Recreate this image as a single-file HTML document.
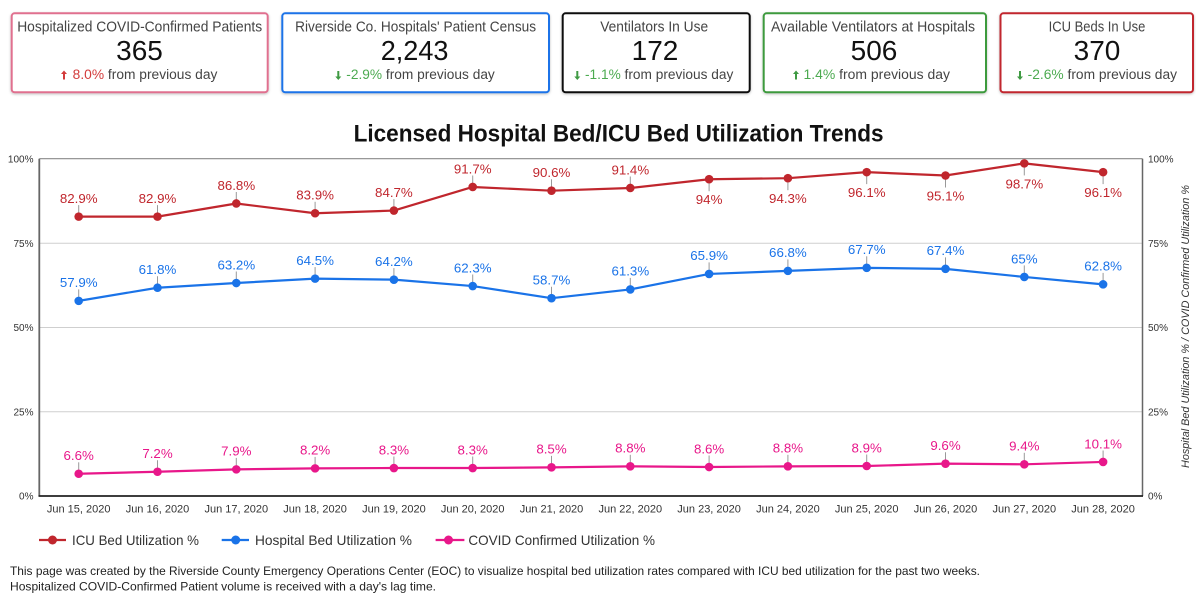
<!DOCTYPE html>
<html><head><meta charset="utf-8"><style>
html,body{margin:0;padding:0;background:#fff;width:1196px;height:603px;overflow:hidden}
svg{display:block;font-family:"Liberation Sans",Arial,sans-serif}
</style></head><body>
<svg width="1196" height="603" viewBox="0 0 1196 603" xmlns="http://www.w3.org/2000/svg">
<defs>
<filter id="sh" x="-5%" y="-10%" width="110%" height="125%"><feDropShadow dx="0" dy="1" stdDeviation="1.2" flood-color="#000" flood-opacity="0.25"/></filter>
</defs>
<rect width="1196" height="603" fill="#fff"/>

<!-- KPI cards -->
<g filter="url(#sh)">
<rect x="11.7" y="13.3" width="256" height="79" rx="3" fill="#fff" stroke="#e0708f" stroke-width="2"/>
<rect x="282.3" y="13.3" width="266.7" height="79" rx="3" fill="#fff" stroke="#1a73e8" stroke-width="2"/>
<rect x="562.7" y="13.3" width="187" height="79" rx="3" fill="#fff" stroke="#111" stroke-width="2"/>
<rect x="763.7" y="13.3" width="222.3" height="79" rx="3" fill="#fff" stroke="#3e9a3e" stroke-width="2"/>
<rect x="1000.5" y="13.3" width="192.5" height="79" rx="3" fill="#fff" stroke="#c1272d" stroke-width="2"/>
</g>
<g font-size="14.5" fill="#444" text-anchor="middle">
<text x="139.7" y="31.7" textLength="245" lengthAdjust="spacingAndGlyphs">Hospitalized COVID-Confirmed Patients</text>
<text x="415.6" y="31.7" textLength="241" lengthAdjust="spacingAndGlyphs">Riverside Co. Hospitals' Patient Census</text>
<text x="654.2" y="31.7" textLength="108" lengthAdjust="spacingAndGlyphs">Ventilators In Use</text>
<text x="873" y="31.7" textLength="204" lengthAdjust="spacingAndGlyphs">Available Ventilators at Hospitals</text>
<text x="1097" y="31.7" textLength="96.7" lengthAdjust="spacingAndGlyphs">ICU Beds In Use</text>
</g>
<g font-size="28" fill="#111" text-anchor="middle">
<text x="139.5" y="60" textLength="46.7" lengthAdjust="spacingAndGlyphs">365</text>
<text x="414.6" y="60" textLength="67.7" lengthAdjust="spacingAndGlyphs">2,243</text>
<text x="655" y="60">172</text>
<text x="874" y="60">506</text>
<text x="1097" y="60">370</text>
</g>
<!-- arrows -->
<g>
<path d="M64 70.5 L67 74 L65 74 L65 79.5 L63 79.5 L63 74 L61 74 Z" fill="#d33b3b"/>
<path d="M338.3 80 L341.3 76.5 L339.3 76.5 L339.3 71 L337.3 71 L337.3 76.5 L335.3 76.5 Z" fill="#3f9a43"/>
<path d="M577.3 80 L580.3 76.5 L578.3 76.5 L578.3 71 L576.3 71 L576.3 76.5 L574.3 76.5 Z" fill="#3f9a43"/>
<path d="M796 70.5 L799 74 L797 74 L797 79.5 L795 79.5 L795 74 L793 74 Z" fill="#3f9a43"/>
<path d="M1020 80 L1023 76.5 L1021 76.5 L1021 71 L1019 71 L1019 76.5 L1017 76.5 Z" fill="#3f9a43"/>
</g>
<g font-size="13.5" fill="#444">
<text x="72.7" y="79" textLength="144.7" lengthAdjust="spacingAndGlyphs"><tspan fill="#d33b3b">8.0%</tspan> from previous day</text>
<text x="346.3" y="79" textLength="148.5" lengthAdjust="spacingAndGlyphs"><tspan fill="#4caa50">-2.9%</tspan> from previous day</text>
<text x="585" y="79" textLength="148.3" lengthAdjust="spacingAndGlyphs"><tspan fill="#4caa50">-1.1%</tspan> from previous day</text>
<text x="803.5" y="79" textLength="146.5" lengthAdjust="spacingAndGlyphs"><tspan fill="#4caa50">1.4%</tspan> from previous day</text>
<text x="1027.7" y="79" textLength="149.3" lengthAdjust="spacingAndGlyphs"><tspan fill="#4caa50">-2.6%</tspan> from previous day</text>
</g>

<!-- Title -->
<text x="618.6" y="141.7" font-size="24" font-weight="bold" fill="#111" text-anchor="middle" textLength="530" lengthAdjust="spacingAndGlyphs">Licensed Hospital Bed/ICU Bed Utilization Trends</text>

<!-- Plot area -->
<g>
<line x1="39.3" y1="243.25" x2="1142.5" y2="243.25" stroke="#cfcfcf" stroke-width="1"/>
<line x1="39.3" y1="327.5" x2="1142.5" y2="327.5" stroke="#cfcfcf" stroke-width="1"/>
<line x1="39.3" y1="411.75" x2="1142.5" y2="411.75" stroke="#cfcfcf" stroke-width="1"/>
<line x1="39.3" y1="158.7" x2="1142.5" y2="158.7" stroke="#8a8a8a" stroke-width="1.2"/>
<line x1="1142.5" y1="158.7" x2="1142.5" y2="496" stroke="#666" stroke-width="1.5"/>
<line x1="39.3" y1="158.7" x2="39.3" y2="496" stroke="#666" stroke-width="1.8"/>
<line x1="38.5" y1="496" x2="1143" y2="496" stroke="#222" stroke-width="1.8"/>
</g>
<g font-size="10" fill="#333" text-anchor="end">
<text x="33.5" y="162.5">100%</text>
<text x="33.5" y="246.8">75%</text>
<text x="33.5" y="331">50%</text>
<text x="33.5" y="415.3">25%</text>
<text x="33.5" y="499.5">0%</text>
</g>
<g font-size="10" fill="#333">
<text x="1148" y="162.5">100%</text>
<text x="1148" y="246.8">75%</text>
<text x="1148" y="331">50%</text>
<text x="1148" y="415.3">25%</text>
<text x="1148" y="499.5">0%</text>
</g>
<text transform="translate(1189,326.5) rotate(-90)" font-size="11" font-style="italic" fill="#333" text-anchor="middle" textLength="283" lengthAdjust="spacingAndGlyphs">Hospital Bed Utilization % / COVID Confirmed Utilization %</text>

<g font-size="11" fill="#333" text-anchor="middle">
<text x="78.7" y="512.5">Jun 15, 2020</text>
<text x="157.5" y="512.5">Jun 16, 2020</text>
<text x="236.3" y="512.5">Jun 17, 2020</text>
<text x="315.1" y="512.5">Jun 18, 2020</text>
<text x="393.9" y="512.5">Jun 19, 2020</text>
<text x="472.7" y="512.5">Jun 20, 2020</text>
<text x="551.5" y="512.5">Jun 21, 2020</text>
<text x="630.3" y="512.5">Jun 22, 2020</text>
<text x="709.1" y="512.5">Jun 23, 2020</text>
<text x="787.9" y="512.5">Jun 24, 2020</text>
<text x="866.7" y="512.5">Jun 25, 2020</text>
<text x="945.5" y="512.5">Jun 26, 2020</text>
<text x="1024.3" y="512.5">Jun 27, 2020</text>
<text x="1103.1" y="512.5">Jun 28, 2020</text>
</g>

<!-- ICU series -->
<g stroke="#999" stroke-width="1">
<line x1="78.7" y1="205.1" x2="78.7" y2="212.6"/>
<line x1="157.5" y1="205.1" x2="157.5" y2="212.6"/>
<line x1="236.3" y1="192" x2="236.3" y2="199.5"/>
<line x1="315.1" y1="201.8" x2="315.1" y2="209.3"/>
<line x1="393.9" y1="199.1" x2="393.9" y2="206.6"/>
<line x1="472.7" y1="175.5" x2="472.7" y2="183"/>
<line x1="551.5" y1="179.2" x2="551.5" y2="186.7"/>
<line x1="630.3" y1="176.5" x2="630.3" y2="184"/>
<line x1="709.1" y1="183.2" x2="709.1" y2="191.2"/>
<line x1="787.9" y1="182.2" x2="787.9" y2="190.2"/>
<line x1="866.7" y1="176.1" x2="866.7" y2="184.1"/>
<line x1="945.5" y1="179.5" x2="945.5" y2="187.5"/>
<line x1="1024.3" y1="167.4" x2="1024.3" y2="175.4"/>
<line x1="1103.1" y1="176.1" x2="1103.1" y2="184.1"/>
</g>
<polyline fill="none" stroke="#c0262d" stroke-width="2.2" stroke-linejoin="round" points="78.7,216.63 157.5,216.63 236.3,203.48 315.1,213.26 393.9,210.56 472.7,186.97 551.5,190.68 630.3,187.98 709.1,179.22 787.9,178.21 866.7,172.14 945.5,175.51 1024.3,163.38 1103.1,172.14"/>
<g fill="#c0262d">
<circle cx="78.7" cy="216.63" r="4.3"/><circle cx="157.5" cy="216.63" r="4.3"/><circle cx="236.3" cy="203.48" r="4.3"/><circle cx="315.1" cy="213.26" r="4.3"/><circle cx="393.9" cy="210.56" r="4.3"/><circle cx="472.7" cy="186.97" r="4.3"/><circle cx="551.5" cy="190.68" r="4.3"/><circle cx="630.3" cy="187.98" r="4.3"/><circle cx="709.1" cy="179.22" r="4.3"/><circle cx="787.9" cy="178.21" r="4.3"/><circle cx="866.7" cy="172.14" r="4.3"/><circle cx="945.5" cy="175.51" r="4.3"/><circle cx="1024.3" cy="163.38" r="4.3"/><circle cx="1103.1" cy="172.14" r="4.3"/>
</g>
<g font-size="13.3" fill="#c0262d" text-anchor="middle">
<text x="78.7" y="202.9">82.9%</text>
<text x="157.5" y="202.9">82.9%</text>
<text x="236.3" y="189.8">86.8%</text>
<text x="315.1" y="199.6">83.9%</text>
<text x="393.9" y="196.9">84.7%</text>
<text x="472.7" y="173.3">91.7%</text>
<text x="551.5" y="177">90.6%</text>
<text x="630.3" y="174.3">91.4%</text>
<text x="709.1" y="204.2">94%</text>
<text x="787.9" y="203.2">94.3%</text>
<text x="866.7" y="197.1">96.1%</text>
<text x="945.5" y="200.5">95.1%</text>
<text x="1024.3" y="188.6">98.7%</text>
<text x="1103.1" y="197.1">96.1%</text>
</g>

<!-- Hospital series -->
<g stroke="#999" stroke-width="1">
<line x1="78.7" y1="289.4" x2="78.7" y2="296.9"/>
<line x1="157.5" y1="276.2" x2="157.5" y2="283.7"/>
<line x1="236.3" y1="271.5" x2="236.3" y2="279"/>
<line x1="315.1" y1="267.1" x2="315.1" y2="274.6"/>
<line x1="393.9" y1="268.1" x2="393.9" y2="275.6"/>
<line x1="472.7" y1="274.5" x2="472.7" y2="282"/>
<line x1="551.5" y1="286.7" x2="551.5" y2="294.2"/>
<line x1="630.3" y1="277.9" x2="630.3" y2="285.4"/>
<line x1="709.1" y1="262.4" x2="709.1" y2="269.9"/>
<line x1="787.9" y1="259.4" x2="787.9" y2="266.9"/>
<line x1="866.7" y1="256.3" x2="866.7" y2="263.8"/>
<line x1="945.5" y1="257.4" x2="945.5" y2="264.9"/>
<line x1="1024.3" y1="265.4" x2="1024.3" y2="272.9"/>
<line x1="1103.1" y1="272.9" x2="1103.1" y2="280.4"/>
</g>
<polyline fill="none" stroke="#1a73e8" stroke-width="2.2" stroke-linejoin="round" points="78.7,300.88 157.5,287.73 236.3,283.02 315.1,278.63 393.9,279.65 472.7,286.05 551.5,298.18 630.3,289.42 709.1,273.92 787.9,270.88 866.7,267.85 945.5,268.86 1024.3,276.95 1103.1,284.36"/>
<g fill="#1a73e8">
<circle cx="78.7" cy="300.88" r="4.3"/><circle cx="157.5" cy="287.73" r="4.3"/><circle cx="236.3" cy="283.02" r="4.3"/><circle cx="315.1" cy="278.63" r="4.3"/><circle cx="393.9" cy="279.65" r="4.3"/><circle cx="472.7" cy="286.05" r="4.3"/><circle cx="551.5" cy="298.18" r="4.3"/><circle cx="630.3" cy="289.42" r="4.3"/><circle cx="709.1" cy="273.92" r="4.3"/><circle cx="787.9" cy="270.88" r="4.3"/><circle cx="866.7" cy="267.85" r="4.3"/><circle cx="945.5" cy="268.86" r="4.3"/><circle cx="1024.3" cy="276.95" r="4.3"/><circle cx="1103.1" cy="284.36" r="4.3"/>
</g>
<g font-size="13.3" fill="#1a73e8" text-anchor="middle">
<text x="78.7" y="287.2">57.9%</text>
<text x="157.5" y="274">61.8%</text>
<text x="236.3" y="269.3">63.2%</text>
<text x="315.1" y="264.9">64.5%</text>
<text x="393.9" y="266">64.2%</text>
<text x="472.7" y="272.4">62.3%</text>
<text x="551.5" y="284.5">58.7%</text>
<text x="630.3" y="275.7">61.3%</text>
<text x="709.1" y="260.2">65.9%</text>
<text x="787.9" y="257.2">66.8%</text>
<text x="866.7" y="254.2">67.7%</text>
<text x="945.5" y="255.2">67.4%</text>
<text x="1024.3" y="263.3">65%</text>
<text x="1103.1" y="270.7">62.8%</text>
</g>

<!-- COVID series -->
<g stroke="#999" stroke-width="1">
<line x1="78.7" y1="462.3" x2="78.7" y2="469.8"/>
<line x1="157.5" y1="460.2" x2="157.5" y2="467.7"/>
<line x1="236.3" y1="457.9" x2="236.3" y2="465.4"/>
<line x1="315.1" y1="456.9" x2="315.1" y2="464.4"/>
<line x1="393.9" y1="456.5" x2="393.9" y2="464"/>
<line x1="472.7" y1="456.5" x2="472.7" y2="464"/>
<line x1="551.5" y1="455.9" x2="551.5" y2="463.4"/>
<line x1="630.3" y1="454.8" x2="630.3" y2="462.3"/>
<line x1="709.1" y1="455.5" x2="709.1" y2="463"/>
<line x1="787.9" y1="454.8" x2="787.9" y2="462.3"/>
<line x1="866.7" y1="454.5" x2="866.7" y2="462"/>
<line x1="945.5" y1="452.2" x2="945.5" y2="459.7"/>
<line x1="1024.3" y1="452.8" x2="1024.3" y2="460.3"/>
<line x1="1103.1" y1="450.5" x2="1103.1" y2="458"/>
</g>
<polyline fill="none" stroke="#e8178a" stroke-width="2.2" stroke-linejoin="round" points="78.7,473.76 157.5,471.74 236.3,469.38 315.1,468.37 393.9,468.03 472.7,468.03 551.5,467.35 630.3,466.34 709.1,467.02 787.9,466.34 866.7,466.01 945.5,463.65 1024.3,464.32 1103.1,461.96"/>
<g fill="#e8178a">
<circle cx="78.7" cy="473.76" r="4.3"/><circle cx="157.5" cy="471.74" r="4.3"/><circle cx="236.3" cy="469.38" r="4.3"/><circle cx="315.1" cy="468.37" r="4.3"/><circle cx="393.9" cy="468.03" r="4.3"/><circle cx="472.7" cy="468.03" r="4.3"/><circle cx="551.5" cy="467.35" r="4.3"/><circle cx="630.3" cy="466.34" r="4.3"/><circle cx="709.1" cy="467.02" r="4.3"/><circle cx="787.9" cy="466.34" r="4.3"/><circle cx="866.7" cy="466.01" r="4.3"/><circle cx="945.5" cy="463.65" r="4.3"/><circle cx="1024.3" cy="464.32" r="4.3"/><circle cx="1103.1" cy="461.96" r="4.3"/>
</g>
<g font-size="13.3" fill="#e8178a" text-anchor="middle">
<text x="78.7" y="460.1">6.6%</text>
<text x="157.5" y="458">7.2%</text>
<text x="236.3" y="455.7">7.9%</text>
<text x="315.1" y="454.7">8.2%</text>
<text x="393.9" y="454.3">8.3%</text>
<text x="472.7" y="454.3">8.3%</text>
<text x="551.5" y="453.7">8.5%</text>
<text x="630.3" y="452.6">8.8%</text>
<text x="709.1" y="453.3">8.6%</text>
<text x="787.9" y="452.6">8.8%</text>
<text x="866.7" y="452.3">8.9%</text>
<text x="945.5" y="450">9.6%</text>
<text x="1024.3" y="450.6">9.4%</text>
<text x="1103.1" y="448.3">10.1%</text>
</g>

<!-- Legend -->
<g>
<line x1="39" y1="540" x2="66" y2="540" stroke="#c0262d" stroke-width="2.2"/>
<circle cx="52.5" cy="540" r="4.5" fill="#c0262d"/>
<line x1="221.7" y1="540" x2="249" y2="540" stroke="#1a73e8" stroke-width="2.2"/>
<circle cx="235.7" cy="540" r="4.5" fill="#1a73e8"/>
<line x1="435.6" y1="540" x2="464.4" y2="540" stroke="#e8178a" stroke-width="2.2"/>
<circle cx="448.5" cy="540" r="4.5" fill="#e8178a"/>
</g>
<g font-size="14" fill="#333">
<text x="72" y="545" textLength="127" lengthAdjust="spacingAndGlyphs">ICU Bed Utilization %</text>
<text x="255" y="545" textLength="157" lengthAdjust="spacingAndGlyphs">Hospital Bed Utilization %</text>
<text x="468.4" y="545" textLength="186.6" lengthAdjust="spacingAndGlyphs">COVID Confirmed Utilization %</text>
</g>

<!-- Footer -->
<g font-size="12" fill="#222">
<text x="10" y="575" textLength="970" lengthAdjust="spacingAndGlyphs">This page was created by the Riverside County Emergency Operations Center (EOC) to visualize hospital bed utilization rates compared with ICU bed utilization for the past two weeks.</text>
<text x="10" y="590.7" textLength="426" lengthAdjust="spacingAndGlyphs">Hospitalized COVID-Confirmed Patient volume is received with a day's lag time.</text>
</g>
</svg>
</body></html>
